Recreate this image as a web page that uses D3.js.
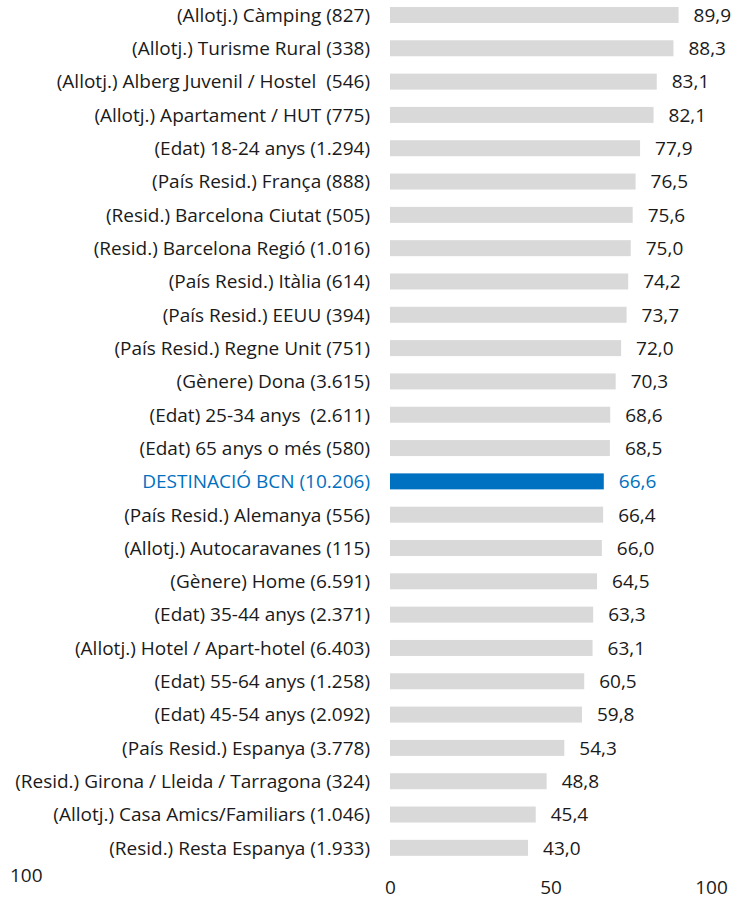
<!DOCTYPE html>
<html>
<head>
<meta charset="utf-8">
<script src="https://cdn.jsdelivr.net/npm/d3@7"></script>
<style>
  body { margin: 0; background: #fff; }
  text { font-family: "Open Sans", sans-serif; white-space: pre; }
</style>
</head>
<body>
<svg id="chart" width="733" height="898"></svg>
<script>
// categories, top to bottom
const categories = [
  "(Allotj.) Càmping (827)",
  "(Allotj.) Turisme Rural (338)",
  "(Allotj.) Alberg Juvenil / Hostel  (546)",
  "(Allotj.) Apartament / HUT (775)",
  "(Edat) 18-24 anys (1.294)",
  "(País Resid.) França (888)",
  "(Resid.) Barcelona Ciutat (505)",
  "(Resid.) Barcelona Regió (1.016)",
  "(País Resid.) Itàlia (614)",
  "(País Resid.) EEUU (394)",
  "(País Resid.) Regne Unit (751)",
  "(Gènere) Dona (3.615)",
  "(Edat) 25-34 anys  (2.611)",
  "(Edat) 65 anys o més (580)",
  "DESTINACIÓ BCN (10.206)",
  "(País Resid.) Alemanya (556)",
  "(Allotj.) Autocaravanes (115)",
  "(Gènere) Home (6.591)",
  "(Edat) 35-44 anys (2.371)",
  "(Allotj.) Hotel / Apart-hotel (6.403)",
  "(Edat) 55-64 anys (1.258)",
  "(Edat) 45-54 anys (2.092)",
  "(País Resid.) Espanya (3.778)",
  "(Resid.) Girona / Lleida / Tarragona (324)",
  "(Allotj.) Casa Amics/Familiars (1.046)",
  "(Resid.) Resta Espanya (1.933)"
];
const values = [89.9, 88.3, 83.1, 82.1, 77.9, 76.5, 75.6, 75.0, 74.2, 73.7, 72.0, 70.3, 68.6,
  68.5, 66.6, 66.4, 66.0, 64.5, 63.3, 63.1, 60.5, 59.8, 54.3, 48.8, 45.4, 43.0];
const highlight = "DESTINACIÓ BCN (10.206)";
const xTicks = [0, 50, 100];

const svg = d3.select("#chart");
const fmt = v => v.toFixed(1).replace(".", ",");
const fs = 19;

const x = d3.scaleLinear().domain([0, 100]).range([390, 711]);
const y = d3.scaleBand().domain(categories).range([-1.7, 864.5]).paddingInner(0.52).paddingOuter(0.26);

const data = categories.map((c, i) => ({ c, v: values[i] }));

svg.append("g").selectAll("rect")
  .data(data).join("rect")
  .attr("x", x(0))
  .attr("y", d => y(d.c))
  .attr("width", d => x(d.v) - x(0))
  .attr("height", y.bandwidth())
  .attr("fill", d => d.c === highlight ? "#0070C0" : "#D9D9D9");

// category labels
svg.append("g").selectAll("text")
  .data(data).join("text")
  .attr("x", 370)
  .attr("y", d => y(d.c) + y.bandwidth() / 2)
  .attr("dy", "0.36em")
  .attr("text-anchor", "end")
  .attr("font-size", fs)
  .attr("fill", d => d.c === highlight ? "#0070C0" : "#1a1a1a")
  .text(d => d.c);

// value labels
svg.append("g").selectAll("text")
  .data(data).join("text")
  .attr("x", d => x(d.v) + 15)
  .attr("y", d => y(d.c) + y.bandwidth() / 2)
  .attr("dy", "0.36em")
  .attr("font-size", fs)
  .attr("fill", d => d.c === highlight ? "#0070C0" : "#1a1a1a")
  .text(d => fmt(d.v));

// x axis
const xAxis = svg.append("g")
  .attr("transform", "translate(0,880)")
  .call(d3.axisBottom(x).tickValues(xTicks).tickSize(0).tickPadding(0));
xAxis.select(".domain").remove();
xAxis.selectAll("text")
  .attr("font-size", fs)
  .attr("fill", "#1a1a1a")
  .style("font-family", null);

// stray label bottom-left
svg.append("text")
  .attr("x", 10)
  .attr("y", 882)
  .attr("font-size", fs)
  .attr("fill", "#1a1a1a")
  .text("100");
</script>
</body>
</html>
